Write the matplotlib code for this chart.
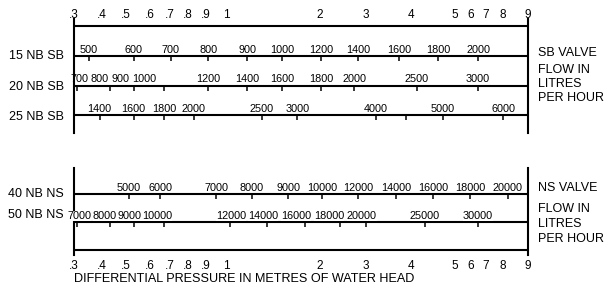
import numpy as np
import matplotlib
matplotlib.use("Agg")
import matplotlib.pyplot as plt
from matplotlib.ticker import NullLocator

plt.rcParams["font.family"] = ["Liberation Sans", "DejaVu Sans"]

# Pression differentielle (m de colonne d'eau) imprimee en haut et en bas
pressions = [.3, .4, .5, .6, .7, .8, .9, 1, 2, 3, 4, 5, 6, 7, 8, 9]
pressions_txt = [".3", ".4", ".5", ".6", ".7", ".8", ".9", "1", "2", "3", "4", "5", "6", "7", "8", "9"]
# la regle est dessinee a la main, ce n'est pas une vraie echelle log
regle = [74, 102, 126, 150, 170, 188, 206, 226, 320, 366, 411, 455, 471, 486, 503, 528]

# Vannes SB : debit (l/h) et pression lue en face de chaque graduation
debit_15sb = [500, 600, 700, 800, 900, 1000, 1200, 1400, 1600, 1800, 2000]
dp_15sb = [0.35, 0.53, 0.705, 0.91, 1.17, 1.51, 2.02, 2.8, 3.7, 4.59, 6.45]

debit_20sb = [700, 800, 900, 1000, 1200, 1400, 1600, 1800, 2000, 2500, 3000]
dp_20sb = [0.31, 0.43, 0.53, 0.67, 0.91, 1.17, 1.51, 2.02, 2.7, 4.12, 6.45]
# les chiffres de gauche sont decales par rapport aux graduations
dp_20sb_chiffres = [0.316, 0.392, 0.477, 0.573, 0.91, 1.17, 1.51, 2.02, 2.7, 4.12, 6.45]

debit_25sb = [1400, 1600, 1800, 2000, 2500, 3000, 4000, 4500, 5000, 6000]
dp_25sb = [0.39, 0.53, 0.67, 0.83, 1.30, 1.69, 3.2, 3.87, 4.7, 8.0]

# Vannes NS
debit_40ns = [5000, 6000, 7000, 8000, 9000, 10000, 12000, 14000, 16000, 18000, 20000]
dp_40ns = [0.51, 0.65, 0.95, 1.21, 1.58, 2.04, 2.8, 3.63, 4.47, 5.93, 8.19]

debit_50ns = [7000, 8000, 9000, 10000, 12000, 14000, 16000, 18000, 20000, 25000, 30000]
dp_50ns = [0.31, 0.43, 0.53, 0.67, 1.03, 1.35, 1.79, 2.39, 3.0, 4.29, 6.45]
dp_50ns_chiffres = [0.316, 0.411, 0.515, 0.633, 1.038, 1.314, 1.675, 2.165, 2.896, 4.29, 6.45]

# graduations sans chiffre
sans_chiffre = [4500]


def vers_regle(p):
    p = np.clip(np.asarray(p, dtype=float), 1e-6, None)
    return np.interp(np.log(p), np.log(pressions), regle)


def depuis_regle(x):
    return np.exp(np.interp(x, regle, np.log(pressions)))


def rangee(ax, y, debits, dp, dp_chiffres=None, fond=False):
    # ligne horizontale + petites graduations vers le bas + chiffres au dessus
    ax.axhline(y, color="black", lw=1.5)
    if debits is None:
        return
    if dp_chiffres is None:
        dp_chiffres = dp
    ax.plot(dp, [y] * len(dp), ls="none", marker=3, ms=3.5, mew=1.1, color="black")
    boite = dict(fc="white", ec="none", pad=0) if fond else None
    for q, p in zip(debits, dp_chiffres):
        if q in sans_chiffre:
            continue
        ax.annotate(str(q), (p, y), xytext=(0, 1), textcoords="offset points",
                    ha="center", va="bottom", fontsize=7.8, bbox=boite)


fig = plt.figure(figsize=(6.1, 2.89), dpi=100)
ax1 = fig.add_axes([74 / 610, 1 - 133 / 289, 454 / 610, 114 / 289])
ax2 = fig.add_axes([74 / 610, 1 - 255 / 289, 454 / 610, 87 / 289])

for ax in (ax1, ax2):
    ax.set_xscale("function", functions=(vers_regle, depuis_regle))
    ax.set_xlim(0.3, 9)
    ax.set_xticks(pressions, pressions_txt)
    ax.xaxis.set_minor_locator(NullLocator())
    ax.tick_params(axis="x", length=0, labelsize=8.5)
    ax.set_yticks([])
    ax.patch.set_visible(False)
    ax.spines["top"].set_visible(False)
    ax.spines["bottom"].set_visible(False)
    ax.spines["left"].set_linewidth(1.5)
    ax.spines["right"].set_linewidth(1.5)

ax1.set_ylim(3.6, -0.25)
ax2.set_ylim(3.18, 0.07)
ax1.xaxis.tick_top()
ax1.tick_params(axis="x", pad=-1.5)
ax2.tick_params(axis="x", pad=3.5)

rangee(ax1, 0, None, None)
rangee(ax1, 1, debit_15sb, dp_15sb)
rangee(ax1, 2, debit_20sb, dp_20sb, dp_20sb_chiffres)
rangee(ax1, 3, debit_25sb, dp_25sb)

rangee(ax2, 1, debit_40ns, dp_40ns)
rangee(ax2, 2, debit_50ns, dp_50ns, dp_50ns_chiffres, fond=True)
rangee(ax2, 3, None, None)

ax2.set_xlabel("DIFFERENTIAL PRESSURE IN METRES OF WATER HEAD", loc="left",
               fontsize=9.1, labelpad=1)

# noms des vannes a gauche
noms = ["15 NB SB", "20 NB SB", "25 NB SB", "40 NB NS", "50 NB NS"]
noms_y = [56, 87, 117, 194, 215]
for n, y in zip(noms, noms_y):
    fig.text(64 / 610, 1 - y / 289, n, ha="right", va="center", fontsize=9)

# legendes a droite
droite = ["SB VALVE", "FLOW IN", "LITRES", "PER HOUR",
          "NS VALVE", "FLOW IN", "LITRES", "PER HOUR"]
droite_y = [53, 70, 84, 98, 188, 209, 224, 239]
for t, y in zip(droite, droite_y):
    fig.text(538 / 610, 1 - y / 289, t, ha="left", va="center", fontsize=9)

fig.savefig("out.png", dpi=100)
